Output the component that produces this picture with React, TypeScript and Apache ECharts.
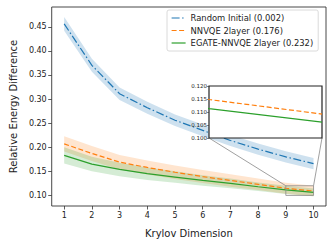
import React, { useEffect, useRef } from "react";
import * as echarts from "echarts";

const krylovDims = [1, 2, 3, 4, 5, 6, 7, 8, 9, 10];
const randomMean = [0.456, 0.37, 0.311, 0.282, 0.256, 0.235, 0.214, 0.196, 0.18, 0.166];
const randomStd = [0.0145, 0.0135, 0.013, 0.0125, 0.012, 0.012, 0.0115, 0.0115, 0.0115, 0.0115];
const nnvqeMean = [0.207, 0.187, 0.169, 0.158, 0.148, 0.139, 0.131, 0.123, 0.1148, 0.1092];
const nnvqeStd = [0.016, 0.0155, 0.015, 0.0145, 0.014, 0.0135, 0.013, 0.012, 0.0115, 0.011];
const egateMean = [0.183, 0.165, 0.154, 0.145, 0.138, 0.131, 0.125, 0.118, 0.1113, 0.1061];
const egateStd = [0.017, 0.015, 0.014, 0.013, 0.012, 0.011, 0.01, 0.009, 0.0085, 0.008];

const yTicks = [0.1, 0.15, 0.2, 0.25, 0.3, 0.35, 0.4, 0.45];
const insetXRange = [9, 10];
const insetYRange = [0.1, 0.12];

const seriesNames = ["Random Initial (0.002)", "NNVQE 2layer (0.176)", "EGATE-NNVQE 2layer (0.232)"];
const colors = ["#1f77b4", "#ff7f0e", "#2ca02c"];
const bandColors = ["rgba(31,119,180,0.22)", "rgba(255,127,14,0.2)", "rgba(44,160,44,0.2)"];
const dashes: any[] = [[8, 2.5, 1.5, 2.5], [5, 2.5], "solid"];

const FONT = "DejaVu Sans";

export default function App() {
  const ref = useRef<HTMLDivElement>(null);
  useEffect(() => {
    if (!ref.current) return;
    const chart = echarts.init(ref.current, undefined, { renderer: "svg" });
    const means = [randomMean, nnvqeMean, egateMean];
    const stds = [randomStd, nnvqeStd, egateStd];

    const series: any[] = [];
    means.forEach((m, i) => {
      const s = stds[i];
      const lo = krylovDims.map((x, k) => [x, m[k] - s[k]]);
      const hi = krylovDims.map((x, k) => [x, m[k] + s[k]]);
      series.push({
        type: "custom",
        name: "band" + i,
        xAxisIndex: 0,
        yAxisIndex: 0,
        data: [[krylovDims[0], m[0]]],
        silent: true,
        z: 1,
        renderItem: (params: any, api: any) => {
          const pts = hi.map((p) => api.coord(p)).concat(lo.slice().reverse().map((p) => api.coord(p)));
          return {
            type: "polygon",
            shape: { points: pts },
            style: { fill: bandColors[i], stroke: "none" },
          };
        },
      });
    });
    means.forEach((m, i) => {
      series.push({
        type: "line",
        name: seriesNames[i],
        xAxisIndex: 0,
        yAxisIndex: 0,
        data: krylovDims.map((x, k) => [x, m[k]]),
        symbol: "none",
        showSymbol: false,
        color: colors[i],
        lineStyle: { color: colors[i], width: 1.2, type: dashes[i] },
        z: 2,
      });
    });
    [1, 2].forEach((i) => {
      series.push({
        type: "line",
        name: "inset" + i,
        xAxisIndex: 1,
        yAxisIndex: 1,
        data: krylovDims.map((x, k) => [x, means[i][k]]),
        symbol: "none",
        lineStyle: { color: colors[i], width: 1.2, type: dashes[i] },
        clip: true,
        z: 8,
      });
    });

    chart.setOption({
      animation: false,
      textStyle: { fontFamily: FONT },
      grid: [
        {
          left: 44, top: 7, width: 282, height: 210,
          show: true, borderColor: "#333", borderWidth: 0.9, backgroundColor: "transparent",
        },
        {
          left: 209, top: 86, width: 113, height: 52,
          show: true, borderColor: "#222", borderWidth: 1.2, backgroundColor: "#fff", z: 5,
        },
      ],
      xAxis: [
        {
          type: "value", gridIndex: 0, min: 0.55, max: 10.45,
          name: "Krylov Dimension", nameLocation: "middle", nameGap: 22,
          nameTextStyle: { fontSize: 10, color: "#222", fontFamily: FONT, fontWeight: "normal" },
          axisLine: { show: false },
          splitLine: { show: false },
          axisTick: { show: true, inside: false, length: 3.5, lineStyle: { color: "#333", width: 0.8 }, customValues: krylovDims },
          axisLabel: { fontSize: 8, color: "#222", margin: 5, fontFamily: FONT, customValues: krylovDims, formatter: (v: number) => String(v) },
        },
        {
          type: "value", gridIndex: 1, min: insetXRange[0], max: insetXRange[1],
          axisLine: { show: false }, splitLine: { show: false },
          axisTick: { show: false }, axisLabel: { show: false }, z: 6,
        },
      ],
      yAxis: [
        {
          type: "value", gridIndex: 0, min: 0.078, max: 0.491,
          name: "Relative Energy Difference", nameLocation: "middle", nameGap: 31,
          nameTextStyle: { fontSize: 10, color: "#222", fontFamily: FONT, fontWeight: "normal" },
          axisLine: { show: false },
          splitLine: { show: false },
          axisTick: { show: true, length: 3.5, lineStyle: { color: "#333", width: 0.8 }, customValues: yTicks },
          axisLabel: { fontSize: 8, color: "#222", margin: 5, fontFamily: FONT, customValues: yTicks, formatter: (v: number) => v.toFixed(2) },
        },
        {
          type: "value", gridIndex: 1, min: insetYRange[0], max: insetYRange[1], interval: 0.005,
          axisLine: { show: false }, splitLine: { show: false },
          axisTick: { show: true, length: 2, lineStyle: { color: "#333", width: 0.6 } },
          axisLabel: { fontSize: 5.5, color: "#222", margin: 2, fontFamily: FONT, formatter: (v: number) => v.toFixed(3) },
          z: 6,
        },
      ],
      legend: {
        data: seriesNames,
        orient: "vertical",
        left: 167, top: 10,
        itemWidth: 14, itemHeight: 8, itemGap: 4.5,
        padding: [4, 5, 4, 4],
        backgroundColor: "#fff",
        borderColor: "#d0d0d0", borderWidth: 0.8, borderRadius: 2,
        itemStyle: { opacity: 0 },
        lineStyle: { width: 1.2 },
        textStyle: { fontSize: 8.4, color: "#222", fontFamily: FONT, fontWeight: "normal" },
        z: 9,
      },
      series,
    });

    const p = (g: number, pt: number[]) => chart.convertToPixel({ gridIndex: g } as any, pt) as number[];
    const mTL = p(0, [insetXRange[0], insetYRange[1]]);
    const mTR = p(0, [insetXRange[1], insetYRange[1]]);
    const mBR = p(0, [insetXRange[1], insetYRange[0]]);
    const iBL = p(1, [insetXRange[0], insetYRange[0]]);
    const iBR = p(1, [insetXRange[1], insetYRange[0]]);
    const gray = { stroke: "#888", lineWidth: 0.8, fill: "transparent" };
    chart.setOption({
      graphic: [
        { type: "rect", shape: { x: mTL[0], y: mTL[1], width: mTR[0] - mTL[0], height: mBR[1] - mTR[1] }, style: gray, z: 4 },
        { type: "line", shape: { x1: mTL[0], y1: mTL[1], x2: iBL[0], y2: iBL[1] }, style: { stroke: "#888", lineWidth: 0.8 }, z: 4 },
        { type: "line", shape: { x1: mTR[0], y1: mTR[1], x2: iBR[0], y2: iBR[1] }, style: { stroke: "#888", lineWidth: 0.8 }, z: 4 },
      ],
    });

    return () => chart.dispose();
  }, []);
  return <div ref={ref} style={{ width: 333, height: 243, position: "absolute", left: 0, top: 0 }} />;
}
